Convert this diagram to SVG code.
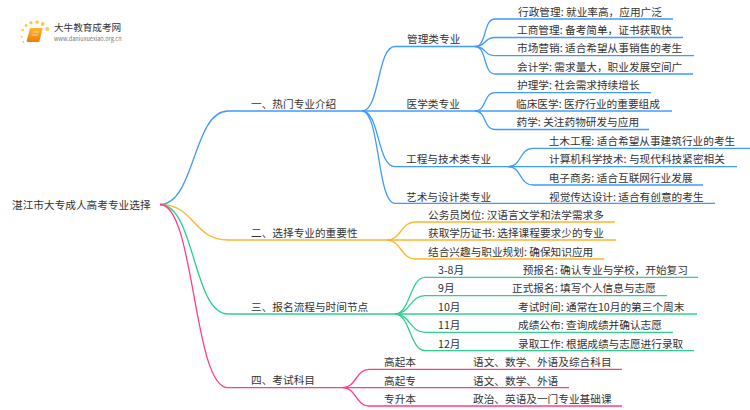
<svg xmlns="http://www.w3.org/2000/svg" width="750" height="410" viewBox="0 0 750 410">
<style>
text{font-family:"Noto Sans CJK SC","Liberation Sans",sans-serif;font-size:10.67px;fill:#333}
.c path{fill:none;stroke-width:1.3}
.b path{stroke:#3f9bff}.o path{stroke:#fbb52a}.g path{stroke:#2fcf8f}.p path{stroke:#ff3d8f}
</style>
<defs><linearGradient id="lg"><stop offset="0" stop-color="#ccc" stop-opacity="0"/><stop offset=".3" stop-color="#ccc"/><stop offset="1" stop-color="#ccc" stop-opacity="0"/></linearGradient>
<linearGradient id="bk" x1="0" y1="0" x2="0" y2="1"><stop offset="0" stop-color="#fdb52c"/><stop offset="1" stop-color="#ee7d0c"/></linearGradient></defs>
<rect width="750" height="410" fill="#fff"/>
<g id="logo">
<g fill="#fbc65a"><circle cx="23.300" cy="42" r=".9"/><circle cx="21.700" cy="36.700" r="1"/><circle cx="22.700" cy="30" r="1.200"/><circle cx="26" cy="25.500" r="1.400"/><circle cx="31" cy="22.700" r="1.700"/><circle cx="37.300" cy="22" r="1.800"/><circle cx="42.700" cy="24" r="1.900"/><circle cx="47.300" cy="29" r="2.100"/></g>
<path d="M31 28H42.700L39.300 42H27.500Q26.300 42 26.700 40.500L29.800 29Q30 28 31 28Z" fill="url(#bk)"/><path d="M32.500 32H39M31.500 35H38" stroke="#ffe2a8" stroke-width=".8" fill="none"/>
<path d="M45 33.500H133" stroke="url(#lg)" stroke-width=".8"/>
<text x="54" y="30.500" style="font-size:9.600px">大牛教育成考网</text>
<text x="54" y="41" style="font-size:5.600px;fill:#777">www.daniuxuexiao.org.cn</text>
</g>
<g id="connectors" class="c">
<g class="b">
<path d="M160 204.500C195 204.500 193 111 228 111H362"/>
<path d="M362 111C380 111 377 46.500 395 46.500H475"/>
<path d="M362 111H475"/>
<path d="M362 111C380 111 377 166.700 395 166.700H508"/>
<path d="M362 111C380 111 377 203.300 395 203.300H715"/>
<path d="M475 46.500C487 46.500 483 19 495 19H673"/>
<path d="M475 46.500C487 46.500 483 37.500 495 37.500H683"/>
<path d="M475 46.500C487 46.500 483 55.700 495 55.700H694"/>
<path d="M475 46.500C487 46.500 483 74 495 74H693"/>
<path d="M475 111C487 111 483 92.700 495 92.700H651"/>
<path d="M475 111H672"/>
<path d="M475 111C487 111 483 129.500 495 129.500H649"/>
<path d="M508 166.700C522 166.700 519 148.300 533 148.300H750"/>
<path d="M508 166.700H737"/>
<path d="M508 166.700C522 166.700 519 185 533 185H703"/>
</g>
<g class="o">
<path d="M160 204.500C195 204.500 193 240 228 240H387"/>
<path d="M387 240C401 240 401 222 415 222H615"/>
<path d="M387 240H616"/>
<path d="M387 240C401 240 401 259 415 259H604"/>
</g>
<g class="g">
<path d="M160 204.500C195 204.500 193 314 228 314H395"/>
<path d="M395 314C410 314 410 277.300 425 277.300H698"/>
<path d="M395 314C410 314 410 295.700 425 295.700H667"/>
<path d="M395 314H697"/>
<path d="M395 314C410 314 410 332.300 425 332.300H673"/>
<path d="M395 314C410 314 410 350.700 425 350.700H694"/>
</g>
<g class="p">
<path d="M160 204.500C195 204.500 193 387.700 228 387.700H343"/>
<path d="M343 387.700C356 387.700 356 369.300 369 369.300H622"/>
<path d="M343 387.700H569"/>
<path d="M343 387.700C356 387.700 356 406 369 406H622"/>
</g>
</g>
<g id="root"><text x="12" y="209">湛江市大专成人高考专业选择</text></g>
<g id="n1"><text x="251" y="107.800">一、热门专业介绍</text></g>
<g id="n2"><text x="251" y="236.500">二、选择专业的重要性</text></g>
<g id="n3"><text x="251" y="310.800">三、报名流程与时间节点</text></g>
<g id="n4"><text x="251" y="383.800">四、考试科目</text></g>
<g id="n1-1"><text x="407" y="42.800">管理类专业</text></g>
<g id="n1-2"><text x="406.500" y="107.800">医学类专业</text></g>
<g id="n1-3"><text x="406" y="162.800">工程与技术类专业</text></g>
<g id="n1-4"><text x="406" y="200.500">艺术与设计类专业</text></g>
<g id="l1"><text x="518" y="15.500">行政管理: 就业率高，应用广泛</text></g>
<g id="l2"><text x="517" y="33.800">工商管理: 备考简单，证书获取快</text></g>
<g id="l3"><text x="517" y="52.100">市场营销: 适合希望从事销售的考生</text></g>
<g id="l4"><text x="517" y="70.800">会计学: 需求量大，职业发展空间广</text></g>
<g id="l5"><text x="517" y="89.100">护理学: 社会需求持续增长</text></g>
<g id="l6"><text x="516" y="107.800">临床医学: 医疗行业的重要组成</text></g>
<g id="l7"><text x="516.500" y="125.800">药学: 关注药物研发与应用</text></g>
<g id="l8"><text x="548.700" y="144.800">土木工程: 适合希望从事建筑行业的考生</text></g>
<g id="l9"><text x="549" y="163.300">计算机科学技术: 与现代科技紧密相关</text></g>
<g id="l10"><text x="548.700" y="181.800">电子商务: 适合互联网行业发展</text></g>
<g id="l11"><text x="549" y="200.500">视觉传达设计: 适合有创意的考生</text></g>
<g id="l12"><text x="428" y="218.800">公务员岗位: 汉语言文学和法学需求多</text></g>
<g id="l13"><text x="428" y="236.800">获取学历证书: 选择课程要求少的专业</text></g>
<g id="l14"><text x="428" y="255.800">结合兴趣与职业规划: 确保知识应用</text></g>
<g id="t1"><text x="438" y="273.800">3-8月</text><text x="522.700" y="273.800">预报名: 确认专业与学校，开始复习</text></g>
<g id="t2"><text x="438" y="292.300">9月</text><text x="512" y="292.300">正式报名: 填写个人信息与志愿</text></g>
<g id="t3"><text x="438" y="310.800">10月</text><text x="518" y="310.800">考试时间: 通常在10月的第三个周末</text></g>
<g id="t4"><text x="438" y="329.300">11月</text><text x="518" y="329.300">成绩公布: 查询成绩并确认志愿</text></g>
<g id="t5"><text x="438" y="347.800">12月</text><text x="518" y="347.800">录取工作: 根据成绩与志愿进行录取</text></g>
<g id="s1"><text x="384" y="365.800">高起本</text><text x="473" y="365.800">语文、数学、外语及综合科目</text></g>
<g id="s2"><text x="384" y="384.800">高起专</text><text x="473" y="384.800">语文、数学、外语</text></g>
<g id="s3"><text x="384" y="402.800">专升本</text><text x="473" y="402.800">政治、英语及一门专业基础课</text></g>
</svg>
